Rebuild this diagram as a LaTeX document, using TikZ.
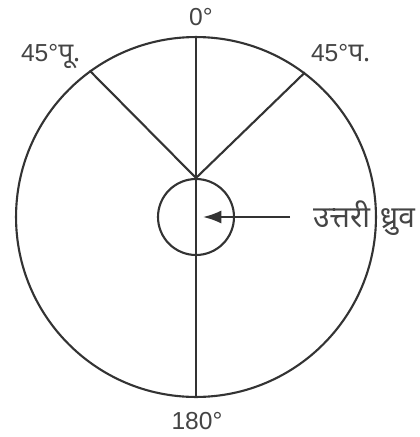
\documentclass[tikz,border=0pt]{standalone}
\usepackage{fontspec}
\setmainfont{Liberation Sans}
\newfontfamily\hindi[Script=Devanagari]{Noto Sans}
\usetikzlibrary{arrows.meta}
\definecolor{ink}{HTML}{333333}
\definecolor{txt}{HTML}{444444}
\tikzset{
  ring/.style={draw=ink, circle, line width=1.2pt, inner sep=0pt},
  lbl/.style={text=txt, inner sep=0pt, font=\fontsize{14}{16}\selectfont},
  arr/.style={-{Latex[length=10.5pt,width=7.5pt]}}
}
\begin{document}
\begin{tikzpicture}[x=0.02cm, y=-0.02cm, line width=1.2pt, draw=ink]
    \useasboundingbox (0,0) rectangle (420,437);
    \node[ring, minimum size=7.2cm] (globe) at (196,217) {};
    \node[ring, minimum size=1.52cm] (pole) at (196,217) {};

    % meridians
    \draw (globe.north) -- (globe.south);
    \draw (pole.north) -- (globe.126.4);
    \draw (pole.north) -- (globe.53.6);

    % labels
    \node[lbl, anchor=base] (zero) at (201,25) {0°};
    \node[lbl, anchor=base] (south) at (197,429) {180°};
    \node[lbl, anchor=base west] (east) at (20,61) {45°{\hindi\fontsize{15}{16}\selectfont पू.}};
    \node[lbl, anchor=base west] (west) at (310,61) {45°{\hindi\fontsize{15}{16}\selectfont प.}};
    \node[lbl, anchor=base west] (name) at (312,227) {\hindi\fontsize{17}{20}\selectfont उत्तरी\hspace{0.2cm}ध्रुव};

    % pointer
    \coordinate (tail) at (290,217);
    \coordinate (tip) at (203,217);
    \draw[arr] (tail) -- (tip);
\end{tikzpicture}
\end{document}
